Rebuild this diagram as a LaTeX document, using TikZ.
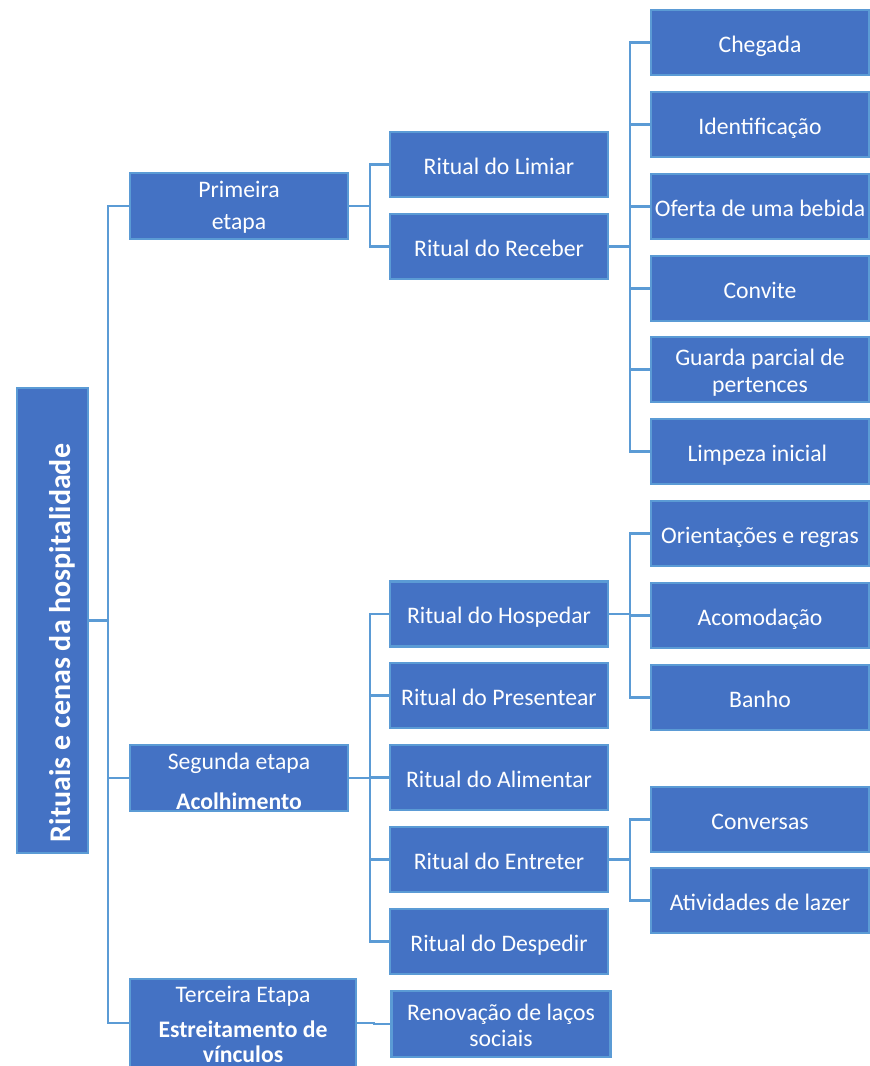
\documentclass[tikz,border=0pt]{standalone}
\usepackage{fontspec}
\setmainfont{Carlito}
\definecolor{boxfill}{HTML}{4472C4}
\definecolor{edgeblue}{HTML}{5B9BD5}
\tikzset{
  box/.style={draw=edgeblue, line width=2.2pt, fill=boxfill, text=white, inner sep=0pt,
    minimum width=218pt, minimum height=65pt, align=center, text height=22pt, text depth=3pt,
    font=\fontsize{23.7}{27}\selectfont},
  lbl/.style={text=white, inner sep=0pt, anchor=base, font=\fontsize{23.7}{27}\selectfont},
  boldlbl/.style={lbl, font=\fontsize{23.7}{27}\selectfont\bfseries},
  link/.style={draw=edgeblue, line width=2.8pt},
}
\begin{document}
\begin{tikzpicture}[x=1pt,y=-1pt]
\useasboundingbox (0,0) rectangle (870,1066);
\begin{scope}
\clip (0,0) rectangle (870,1066);
% buses
\coordinate (b1) at (108,0);
\coordinate (b2) at (370,0);
\coordinate (b3) at (374,0);
\coordinate (b4) at (630,0);
% root
\node[box, minimum width=71pt, minimum height=465pt] (root) at (52.5,620.5) {};
\node[lbl, rotate=90, font=\fontsize{30}{36}\selectfont\bfseries] (roottxt) at (70,643) {Rituais e cenas da hospitalidade};
% level 1
\node[box, minimum height=66pt] (p1) at (239,206) {};
\node[lbl] (p1a) at (239,197) {Primeira};
\node[lbl] (p1b) at (239,229) {etapa};
\node[box, minimum height=66pt] (p2) at (239,778) {};
\node[lbl] (p2a) at (239,769) {Segunda etapa};
\node[boldlbl] (p2b) at (239,809) {Acolhimento};
\node[box, minimum width=226pt, minimum height=88pt] (p3) at (243,1023) {};
\node[lbl] (p3a) at (243,1002) {Terceira Etapa};
\node[boldlbl] (p3b) at (243,1037) {Estreitamento de};
\node[boldlbl] (p3c) at (243,1062) {vínculos};
% level 2
\node[box] (lim) at (499,164.5) {Ritual do Limiar};
\node[box] (rec) at (499,246.5) {Ritual do Receber};
\node[box] (hosp) at (499,614) {Ritual do Hospedar};
\node[box] (pres) at (499,695.5) {Ritual do Presentear};
\node[box] (alim) at (499,777.5) {Ritual do Alimentar};
\node[box] (entr) at (499,859.5) {Ritual do Entreter};
\node[box] (desp) at (499,941.5) {Ritual do Despedir};
\node[box, minimum width=219pt, minimum height=66pt] (ren) at (501,1024) {};
\node[lbl] (rena) at (501,1020) {Renovação de laços};
\node[lbl] (renb) at (501,1046) {sociais};
% level 3
\node[box] (cheg) at (760,42.5) {Chegada};
\node[box] (iden) at (760,124.5) {Identificação};
\node[box] (ofer) at (760,206.5) {Oferta de uma bebida};
\node[box] (conv) at (760,288.5) {Convite};
\node[box] (guar) at (760,369.5) {};
\node[lbl] (guara) at (760,365) {Guarda parcial de};
\node[lbl] (guarb) at (760,392) {pertences};
\node[box] (limp) at (760,451.5) {Limpeza inicial\ };
\node[box] (orie) at (760,533.5) {Orientações e regras};
\node[box] (acom) at (760,615.5) {Acomodação};
\node[box] (banh) at (760,697.5) {Banho};
\node[box] (conv2) at (760,819.5) {Conversas};
\node[box] (ativ) at (760,900.5) {Atividades de lazer};
% connectors
\draw[link] (root.east) -- (root.east -| b1);
\foreach \c in {p1,p2,p3} \draw[link] (root.east -| b1) |- (\c.west);
\foreach \c in {lim,rec} \draw[link] (p1.east) -- (p1.east -| b2) |- (\c.west);
\foreach \c in {hosp,pres,alim,entr,desp} \draw[link] (p2.east) -- (p2.east -| b2) |- (\c.west);
\draw[link] (p3.east) -- (p3.east -| b3) |- (ren.west);
\foreach \c in {cheg,iden,ofer,conv,guar,limp} \draw[link] (rec.east) -- (rec.east -| b4) |- (\c.west);
\foreach \c in {orie,acom,banh} \draw[link] (hosp.east) -- (hosp.east -| b4) |- (\c.west);
\foreach \c in {conv2,ativ} \draw[link] (entr.east) -- (entr.east -| b4) |- (\c.west);
\end{scope}
\end{tikzpicture}
\end{document}
